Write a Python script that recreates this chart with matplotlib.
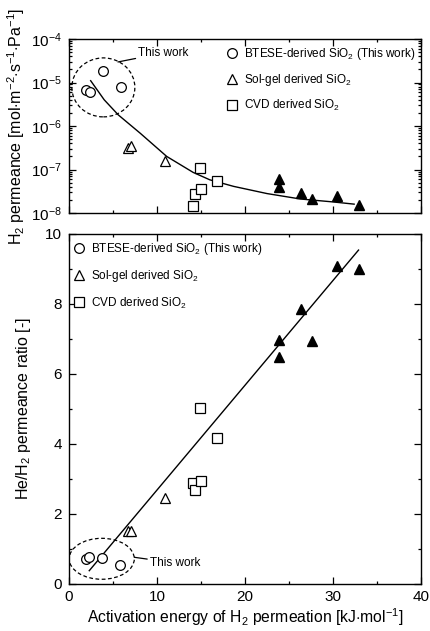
import matplotlib
matplotlib.use("Agg")
import matplotlib.pyplot as plt
from matplotlib.lines import Line2D
from matplotlib.patches import Ellipse
from matplotlib.ticker import MultipleLocator, LogLocator, NullFormatter

plt.rcParams['font.family'] = ['Liberation Sans', 'DejaVu Sans']
plt.rcParams['mathtext.fontset'] = 'custom'
plt.rcParams['mathtext.rm'] = 'Liberation Sans'
plt.rcParams['mathtext.it'] = 'Liberation Sans:italic'
plt.rcParams['mathtext.bf'] = 'Liberation Sans:bold'

# BTESE-derived SiO2 (this work)
btese_ea = [1.95, 2.4, 3.85, 5.9]
btese_perm = [6.7e-6, 6.0e-6, 1.8e-5, 8.0e-6]
btese_ea2 = [1.95, 2.3, 3.7, 5.8]
btese_ratio = [0.71, 0.78, 0.74, 0.54]

# sol-gel derived SiO2, open triangles
solgel_ea = [6.75, 7.0, 10.9]
solgel_perm = [3.2e-7, 3.4e-7, 1.6e-7]
solgel_ratio = [1.50, 1.52, 2.45]

# sol-gel derived SiO2, filled triangles
solgel2_ea = [23.9, 23.9, 26.4, 27.6, 30.4, 33.0]
solgel2_perm = [6.0e-8, 4.0e-8, 2.9e-8, 2.1e-8, 2.4e-8, 1.55e-8]
solgel2_ratio = [6.98, 6.48, 7.86, 6.95, 9.08, 9.0]

# CVD derived SiO2
cvd_ea = [14.05, 14.35, 14.95, 14.9, 16.85]
cvd_perm = [1.45e-8, 2.7e-8, 3.6e-8, 1.1e-7, 5.4e-8]
cvd_ratio = [2.88, 2.68, 2.94, 5.02, 4.18]

# fitted curves
fit_x = [2.46, 4.0, 5.6, 8.1, 11.1, 14.1, 16.0, 18.7, 22.5, 26.3, 30.0, 32.4]
fit_perm = [1.1e-5, 4.0e-6, 1.8e-6, 6.8e-7, 2.0e-7, 8.6e-8, 5.8e-8, 4.1e-8, 2.8e-8, 2.1e-8, 1.8e-8, 1.6e-8]
line_x = [2.3, 32.9]
line_ratio = [0.38, 9.54]

fig = plt.figure(figsize=(4.3, 6.31), dpi=100)
ax1 = fig.add_axes([0.1605, 0.6624, 0.8186, 0.2758])
ax2 = fig.add_axes([0.1605, 0.0745, 0.8186, 0.5547])

ms = 7
open_kw = dict(linestyle='none', markerfacecolor='white', markeredgecolor='black', markeredgewidth=0.9, markersize=ms)
fill_kw = dict(linestyle='none', markerfacecolor='black', markeredgecolor='black', markersize=ms)

# top panel
ax1.plot(fit_x, fit_perm, color='black', lw=1)
ax1.plot(btese_ea, btese_perm, marker='o', **open_kw)
ax1.plot(solgel_ea, solgel_perm, marker='^', **open_kw)
ax1.plot(solgel2_ea, solgel2_perm, marker='^', **fill_kw)
ax1.plot(cvd_ea, cvd_perm, marker='s', **open_kw)
ax1.set_yscale('log')
ax1.set_xlim(0, 40)
ax1.set_ylim(1e-8, 1e-4)
ax1.xaxis.set_major_locator(MultipleLocator(10))
ax1.xaxis.set_minor_locator(MultipleLocator(5))
ax1.xaxis.set_major_formatter(NullFormatter())
ax1.yaxis.set_major_locator(LogLocator(base=10, numticks=10))
ax1.yaxis.set_minor_locator(LogLocator(base=10, subs=range(2, 10), numticks=10))
ax1.yaxis.set_minor_formatter(NullFormatter())
ax1.set_ylabel('H$_2$ permeance [mol$\\cdot$m$^{-2}$$\\cdot$s$^{-1}$$\\cdot$Pa$^{-1}$]', fontsize=11.5, labelpad=3)

ax1.add_patch(Ellipse((0.0975, 0.722), 0.179, 0.339, transform=ax1.transAxes,
                      fill=False, ls=(0, (3, 2)), lw=0.9, color='black'))
ax1.annotate('This work', xy=(0.139, 0.868), xytext=(0.197, 0.92), xycoords='axes fraction',
             textcoords='axes fraction', fontsize=8.5, va='center',
             arrowprops=dict(arrowstyle='-', lw=0.9, color='black', shrinkA=0, shrinkB=0))

# bottom panel
ax2.plot(line_x, line_ratio, color='black', lw=1)
ax2.plot(btese_ea2, btese_ratio, marker='o', **open_kw)
ax2.plot(solgel_ea, solgel_ratio, marker='^', **open_kw)
ax2.plot(solgel2_ea, solgel2_ratio, marker='^', **fill_kw)
ax2.plot(cvd_ea, cvd_ratio, marker='s', **open_kw)
ax2.set_xlim(0, 40)
ax2.set_ylim(0, 10)
ax2.xaxis.set_major_locator(MultipleLocator(10))
ax2.xaxis.set_minor_locator(MultipleLocator(5))
ax2.yaxis.set_major_locator(MultipleLocator(2))
ax2.yaxis.set_minor_locator(MultipleLocator(1))
ax2.set_xlabel('Activation energy of H$_2$ permeation [kJ$\\cdot$mol$^{-1}$]', fontsize=11.3, labelpad=2)
ax2.set_ylabel('He/H$_2$ permeance ratio [-]', fontsize=11.5, labelpad=9)

ax2.add_patch(Ellipse((0.093, 0.072), 0.185, 0.117, transform=ax2.transAxes,
                      fill=False, ls=(0, (3, 2)), lw=0.9, color='black'))
ax2.annotate('This work', xy=(0.1855, 0.0763), xytext=(0.23, 0.06), xycoords='axes fraction',
             textcoords='axes fraction', fontsize=8.5, va='center',
             arrowprops=dict(arrowstyle='-', lw=0.9, color='black', shrinkA=0, shrinkB=0))

handles = [Line2D([], [], marker='o', **open_kw),
           Line2D([], [], marker='^', **open_kw),
           Line2D([], [], marker='s', **open_kw)]
labels = ['BTESE-derived SiO$_2$ (This work)', 'Sol-gel derived SiO$_2$', 'CVD derived SiO$_2$']
ax1.legend(handles, labels, loc='upper left', bbox_to_anchor=(0.446, 0.96), frameon=False,
           fontsize=8.5, handlelength=1.0, handletextpad=0.5, labelspacing=0.85, borderpad=0, borderaxespad=0)
ax2.legend(handles, labels, loc='upper left', bbox_to_anchor=(0.011, 0.98), frameon=False,
           fontsize=8.5, handlelength=1.0, handletextpad=0.5, labelspacing=0.95, borderpad=0, borderaxespad=0)

for ax in (ax1, ax2):
    ax.tick_params(which='both', direction='in', top=True, right=True, labelsize=11, width=0.9)
    ax.tick_params(which='major', length=5, pad=5)
    ax.tick_params(which='minor', length=2.5)
    for s in ax.spines.values():
        s.set_linewidth(1.0)
ax2.tick_params(axis='x', which='major', pad=4)

fig.savefig('out.png', dpi=100)
